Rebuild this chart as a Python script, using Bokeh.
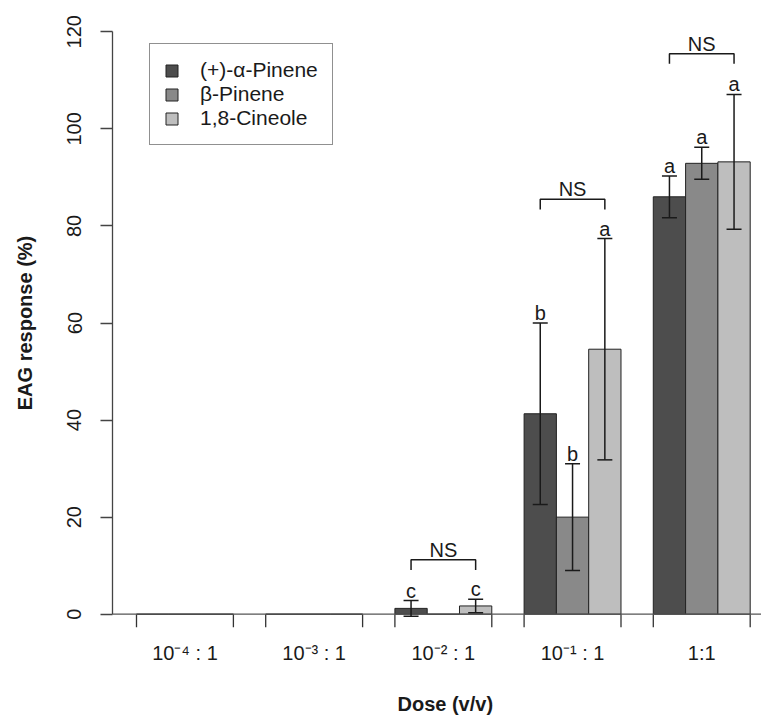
import numpy as np
from bokeh.plotting import figure
from bokeh.models import (ColumnDataSource, Range1d, FixedTicker, Span, Whisker,
                          TeeHead, Legend, LegendItem, Title, LinearAxis)
from bokeh.core.properties import value
from bokeh.embed import file_html
from bokeh.resources import INLINE

# ---- data ----
doses = ["10\u207b\u2074 : 1", "10\u207b\u00b3 : 1", "10\u207b\u00b2 : 1", "10\u207b\u00b9 : 1", "1:1"]
series = ["(+)-\u03b1-Pinene", "\u03b2-Pinene", "1,8-Cineole"]
alpha_pinene = [0, 0, 1.2, 41.3, 86.0]
alpha_pinene_err = [0, 0, 1.6, 18.7, 4.3]
beta_pinene = [0, 0, 0, 20.0, 92.9]
beta_pinene_err = [0, 0, 0, 11.0, 3.3]
cineole = [0, 0, 1.7, 54.6, 93.2]
cineole_err = [0, 0, 1.4, 22.8, 13.9]
letters_alpha = ["", "", "c", "b", "a"]
letters_beta = ["", "", "", "b", "a"]
letters_cineole = ["", "", "c", "a", "a"]
ns_groups = [2, 3, 4]
ns_levels = [11.2, 85.5, 115.5]
y_ticks = [0, 20, 40, 60, 80, 100, 120]

means = [alpha_pinene, beta_pinene, cineole]
errs = [alpha_pinene_err, beta_pinene_err, cineole_err]
letters = [letters_alpha, letters_beta, letters_cineole]
colors = ["#4d4d4d", "#898989", "#bebebe"]

FONT = "Liberation Sans"
FS = "20px"
INK = "#1a1a1a"

n_groups = len(doses)
n_series = len(series)
group_step = n_series + 1


def bar_center(g, s):
    return group_step * g + s + 1.5


group_centers = [group_step * g + 1 + n_series / 2 for g in range(n_groups)]
group_edges = []
for g in range(n_groups):
    group_edges += [group_step * g + 1, group_step * g + 1 + n_series]

p = figure(width=761, height=715, output_backend="svg", toolbar_location=None,
           x_range=Range1d(0.257, 20.35), y_range=Range1d(-4.8, 124.8),
           min_border_left=112, min_border_right=0, min_border_top=8,
           min_border_bottom=78)
p.outline_line_color = None
p.xgrid.visible = False
p.ygrid.visible = False
p.background_fill_color = "white"
p.border_fill_color = "white"

# zero line
p.add_layout(Span(location=0, dimension="width", line_color="#555555", line_width=1.3))

legend_items = []
for s in range(n_series):
    xs = [bar_center(g, s) for g in range(n_groups)]
    src = ColumnDataSource(dict(x=xs, top=means[s]))
    r = p.vbar(x="x", top="top", bottom=0, width=1.0, source=src,
               fill_color=colors[s], line_color="#222222", line_width=1)
    legend_items.append(LegendItem(label=series[s], renderers=[r]))

# error bars
for s in range(n_series):
    bx, up, lo = [], [], []
    for g in range(n_groups):
        if errs[s][g] > 0:
            bx.append(bar_center(g, s))
            up.append(means[s][g] + errs[s][g])
            lo.append(means[s][g] - errs[s][g])
    esrc = ColumnDataSource(dict(base=bx, upper=up, lower=lo))
    w = Whisker(source=esrc, base="base", upper="upper", lower="lower",
                dimension="height", line_color=INK, line_width=1.5, level="overlay",
                upper_head=TeeHead(size=15, line_color=INK, line_width=1.5),
                lower_head=TeeHead(size=15, line_color=INK, line_width=1.5))
    p.add_layout(w)

# significance letters
for s in range(n_series):
    lx, ly, lt = [], [], []
    for g in range(n_groups):
        if letters[s][g]:
            lx.append(bar_center(g, s))
            ly.append(means[s][g] + errs[s][g])
            lt.append(letters[s][g])
    p.text(x=lx, y=ly, text=lt, text_align="center", text_baseline="bottom",
           y_offset=1, text_font=value(FONT), text_font_size=FS, text_color=INK)

# NS brackets
leg = 2.1
bxs, bys = [], []
for g, lvl in zip(ns_groups, ns_levels):
    x0 = bar_center(g, 0)
    x2 = bar_center(g, n_series - 1)
    bxs.append([x0, x0, x2, x2])
    bys.append([lvl - leg, lvl, lvl, lvl - leg])
p.multi_line(xs=bxs, ys=bys, line_color=INK, line_width=1.5)
p.text(x=[group_centers[g] for g in ns_groups], y=ns_levels, text=["NS"] * len(ns_groups),
       text_align="center", text_baseline="bottom", y_offset=1,
       text_font=value(FONT), text_font_size=FS, text_color=INK)

# x tick marks at group edges
p.segment(x0=group_edges, y0=0, x1=group_edges, y1=-2.68, line_color="#333333", line_width=1.3)

# x axis (labels only)
xa = p.xaxis[0]
xa.ticker = FixedTicker(ticks=group_centers)
xa.major_label_overrides = {c: d for c, d in zip(group_centers, doses)}
xa.axis_line_color = None
xa.major_tick_line_color = None
xa.minor_tick_line_color = None
xa.major_tick_out = 0
xa.major_tick_in = 0
xa.major_label_standoff = 4
xa.major_label_text_font = FONT
xa.major_label_text_font_size = FS
xa.major_label_text_color = INK

# invisible spacer axis between the tick labels and the x title
spacer = LinearAxis(ticker=FixedTicker(ticks=[group_centers[0]]),
                    major_label_overrides={group_centers[0]: ""},
                    major_tick_out=24, major_tick_in=0, major_label_standoff=0,
                    axis_line_color=None, major_tick_line_color=None,
                    minor_tick_line_color=None, major_label_text_font_size="0px",
                    major_label_text_alpha=0)
p.add_layout(spacer, "below")

# y axis
ya = p.yaxis[0]
ya.ticker = FixedTicker(ticks=y_ticks)
ya.bounds = (0, 120)
ya.axis_line_color = "#444444"
ya.axis_line_width = 1.3
ya.major_tick_line_color = "#444444"
ya.major_tick_line_width = 1.3
ya.major_tick_out = 12
ya.major_tick_in = 0
ya.minor_tick_line_color = None
ya.major_label_orientation = "parallel"
ya.major_label_standoff = 19
ya.major_label_text_font = FONT
ya.major_label_text_font_size = FS
ya.major_label_text_color = INK
ya.axis_label = "EAG response (%)"
ya.axis_label_text_font = FONT
ya.axis_label_text_font_size = FS
ya.axis_label_text_font_style = "bold"
ya.axis_label_text_color = INK
ya.axis_label_standoff = 29

# x axis title
p.add_layout(Title(text="Dose (v/v)", align="left", offset=285, standoff=0,
                   text_font=FONT, text_font_size=FS, text_font_style="bold",
                   text_color=INK), "below")

legend = Legend(items=legend_items, location=(37, 492), margin=0, padding=14,
                spacing=0, glyph_width=15, glyph_height=15, label_standoff=21,
                label_text_font=FONT, label_text_font_size="21px", label_text_color=INK,
                border_line_color="#222222", border_line_width=1.2,
                background_fill_color="white", background_fill_alpha=1.0)
p.add_layout(legend)

open("out.html", "w").write(file_html(p, INLINE))
